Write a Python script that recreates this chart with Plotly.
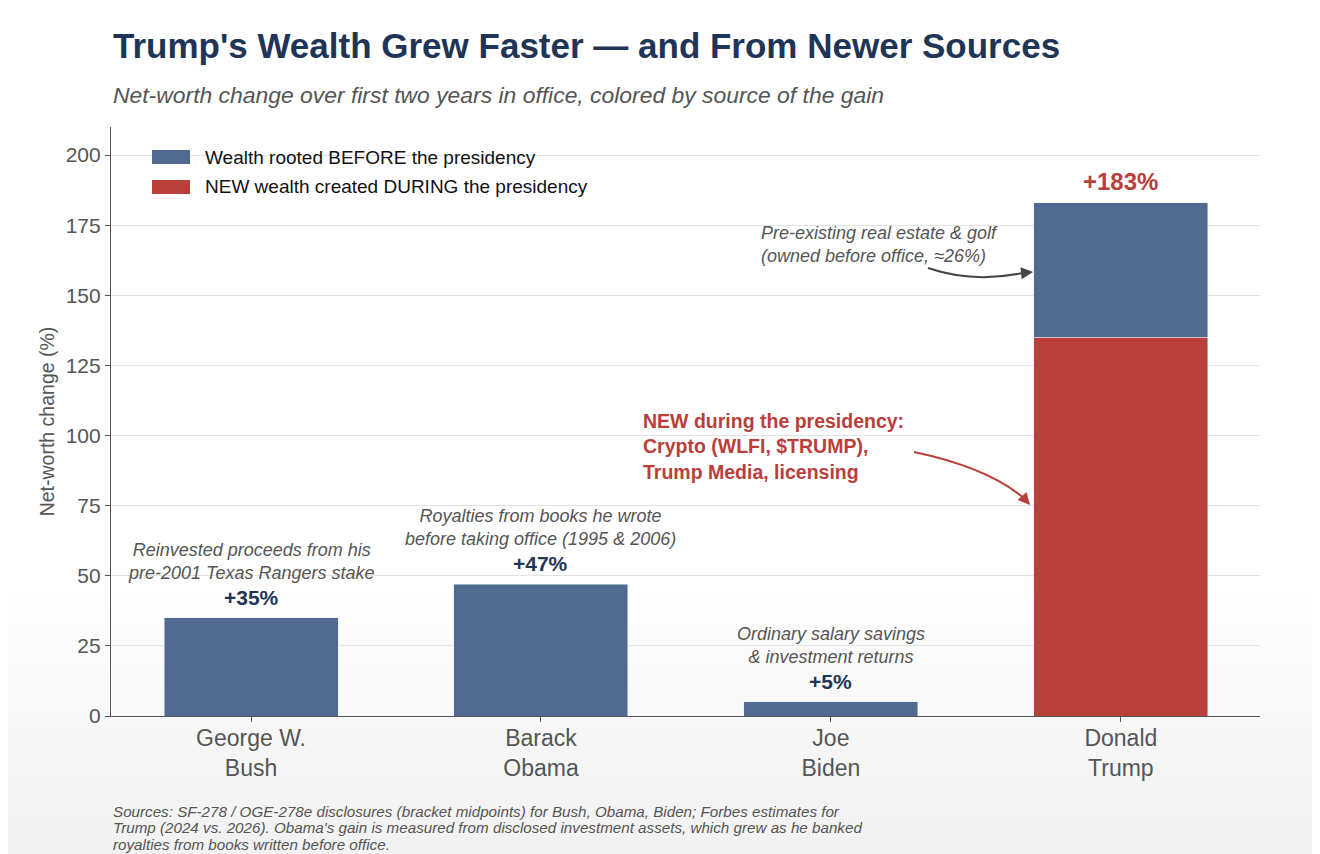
import plotly.graph_objects as go

# Date
presedinti = ["George W.<br>Bush", "Barack<br>Obama", "Joe<br>Biden", "Donald<br>Trump"]
inainte = [35, 47, 5, 48]        # wealth rooted before the presidency
in_timpul = [0, 0, 0, 135]       # new wealth created during the presidency
etichete_total = ["+35%", "+47%", "+5%", "+183%"]
note_bare = [
    "Reinvested proceeds from his<br>pre-2001 Texas Rangers stake",
    "Royalties from books he wrote<br>before taking office (1995 & 2006)",
    "Ordinary salary savings<br>& investment returns",
    "",
]
surse = [
    "Sources: SF-278 / OGE-278e disclosures (bracket midpoints) for Bush, Obama, Biden; Forbes estimates for",
    "Trump (2024 vs. 2026). Obama's gain is measured from disclosed investment assets, which grew as he banked",
    "royalties from books written before office.",
]

ALBASTRU = "#506a91"
ROSU = "#b9403a"
NAVY = "#1f3557"
GRI = "#555555"
FONT = "Liberation Sans, Arial, sans-serif"

# pagina are 8px margine in browser -> figura mai mica cu 8px
W, H = 1312, 846
ML, MR, MT, MB = 103, 60, 119, 138
PH = H - MT - MB  # inaltime zona de desen in px


def py(pix):
    """pixel (din imaginea de referinta) -> coordonata paper pe verticala"""
    return (716 - pix) / PH


def px_(pix):
    return (pix - 111) / (W - ML - MR)


fig = go.Figure()

fig.add_trace(go.Bar(
    x=presedinti, y=in_timpul, name="NEW wealth created DURING the presidency",
    marker_color=ROSU, width=0.6,
))
fig.add_trace(go.Bar(
    x=presedinti, y=inainte, name="Wealth rooted BEFORE the presidency",
    marker_color=ALBASTRU, width=0.6,
))

anns = []
shapes = []

# legenda desenata manual (dreptunghiuri late ca in original)
for k, tr in enumerate(reversed(fig.data)):
    yc = 157 + 30 * k
    shapes.append(dict(
        type="rect", xref="paper", yref="paper",
        x0=px_(152), x1=px_(190), y0=py(yc + 7), y1=py(yc - 7),
        fillcolor=tr.marker.color, line_width=0,
    ))
    anns.append(dict(
        xref="paper", yref="paper", x=px_(203), y=py(yc), xanchor="left", yanchor="middle",
        text=tr.name, showarrow=False, font=dict(size=19, color="#111111", family=FONT),
    ))

# etichete total deasupra barelor
for i, (p, lab) in enumerate(zip(presedinti, etichete_total)):
    tot = inainte[i] + in_timpul[i]
    trump = i == len(presedinti) - 1
    anns.append(dict(
        x=p, y=tot, text=f"<b>{lab}</b>", showarrow=False,
        yanchor="bottom", yshift=6 if trump else 7,
        font=dict(size=24 if trump else 21, color=ROSU if trump else NAVY, family=FONT),
    ))
    if note_bare[i]:
        anns.append(dict(
            x=p, y=tot, text=f"<i>{note_bare[i]}</i>", showarrow=False,
            yanchor="bottom", yshift=33,
            font=dict(size=18, color=GRI, family=FONT),
        ))

# note Trump
anns.append(dict(
    xref="paper", yref="paper", x=px_(759), y=py(221), xanchor="left", yanchor="top",
    text="<i>Pre-existing real estate & golf<br>(owned before office, ≈26%)</i>",
    showarrow=False, align="left", font=dict(size=18, color=GRI, family=FONT),
))
anns.append(dict(
    xref="paper", yref="paper", x=px_(641), y=py(408), xanchor="left", yanchor="top",
    text="<b>NEW during the presidency:<br>Crypto (WLFI, $TRUMP),<br>Trump Media, licensing</b>",
    showarrow=False, align="left", font=dict(size=19.5, color=ROSU, family=FONT),
))
# varfuri de sageata
anns.append(dict(
    xref="paper", yref="paper", x=px_(1033), y=py(272), ax=-10, ay=1, text="",
    showarrow=True, arrowhead=2, arrowsize=1.2, arrowwidth=2, arrowcolor="#444444",
))
anns.append(dict(
    xref="paper", yref="paper", x=px_(1030), y=py(505), ax=-8, ay=-9, text="",
    showarrow=True, arrowhead=2, arrowsize=1.2, arrowwidth=2, arrowcolor=ROSU,
))

# titlu, subtitlu, surse
anns.append(dict(
    xref="paper", yref="paper", x=px_(111), y=py(45), xanchor="left", yanchor="middle",
    text="<b>Trump's Wealth Grew Faster — and From Newer Sources</b>", showarrow=False,
    font=dict(size=35, color=NAVY, family=FONT),
))
anns.append(dict(
    xref="paper", yref="paper", x=px_(111), y=py(95), xanchor="left", yanchor="middle",
    text="<i>Net-worth change over first two years in office, colored by source of the gain</i>",
    showarrow=False, font=dict(size=22.9, color=GRI, family=FONT),
))
for k, linie in enumerate(surse):
    anns.append(dict(
        xref="paper", yref="paper", x=px_(111), y=py(811 + 16.5 * k), xanchor="left", yanchor="middle",
        text=f"<i>{linie}</i>", showarrow=False,
        font=dict(size=15.2, color=GRI, family=FONT),
    ))

# fundal in degrade spre partea de jos
n = 24
y_sus, y_jos = py(590), py(860)
pas = (y_sus - y_jos) / n
for k in range(n):
    y1 = y_sus - k * pas
    g = int(255 - 13 * (k + 1) / n)
    shapes.append(dict(
        type="rect", xref="paper", yref="paper", x0=-0.2, x1=1.1, y0=y1 - pas - 0.002, y1=y1,
        fillcolor=f"rgb({g},{g},{g})", line_width=0, layer="below",
    ))
# sageti curbate
shapes.append(dict(
    type="path", xref="paper", yref="paper",
    path=f"M {px_(928)} {py(268)} Q {px_(975)} {py(284)} {px_(1027)} {py(272)}",
    line=dict(color="#444444", width=2),
))
shapes.append(dict(
    type="path", xref="paper", yref="paper",
    path=f"M {px_(914)} {py(452)} Q {px_(990)} {py(468)} {px_(1026)} {py(500)}",
    line=dict(color=ROSU, width=2),
))

fig.update_layout(
    barmode="stack",
    width=W, height=H,
    margin=dict(l=ML, r=MR, t=MT, b=MB),
    paper_bgcolor="white",
    plot_bgcolor="rgba(0,0,0,0)",
    font=dict(family=FONT, color=GRI),
    showlegend=False,
    annotations=anns,
    shapes=shapes,
)
fig.update_xaxes(
    range=[-0.483, 3.48],
    showline=True, linecolor="#555555", linewidth=1.2,
    ticks="outside", ticklen=5, tickcolor="#555555",
    tickfont=dict(size=23, color=GRI), showgrid=False,
    ticklabelstandoff=-4,
)
fig.update_yaxes(
    range=[0, 210], dtick=25, tick0=0,
    showline=True, linecolor="#555555", linewidth=1.2,
    ticks="outside", ticklen=5, tickcolor="#555555",
    tickfont=dict(size=21, color=GRI),
    gridcolor="#e3e3e3", gridwidth=1, zeroline=False,
    title=dict(text="Net-worth change (%)", font=dict(size=19.5, color=GRI), standoff=5),
)

fig.write_html("out.html")
